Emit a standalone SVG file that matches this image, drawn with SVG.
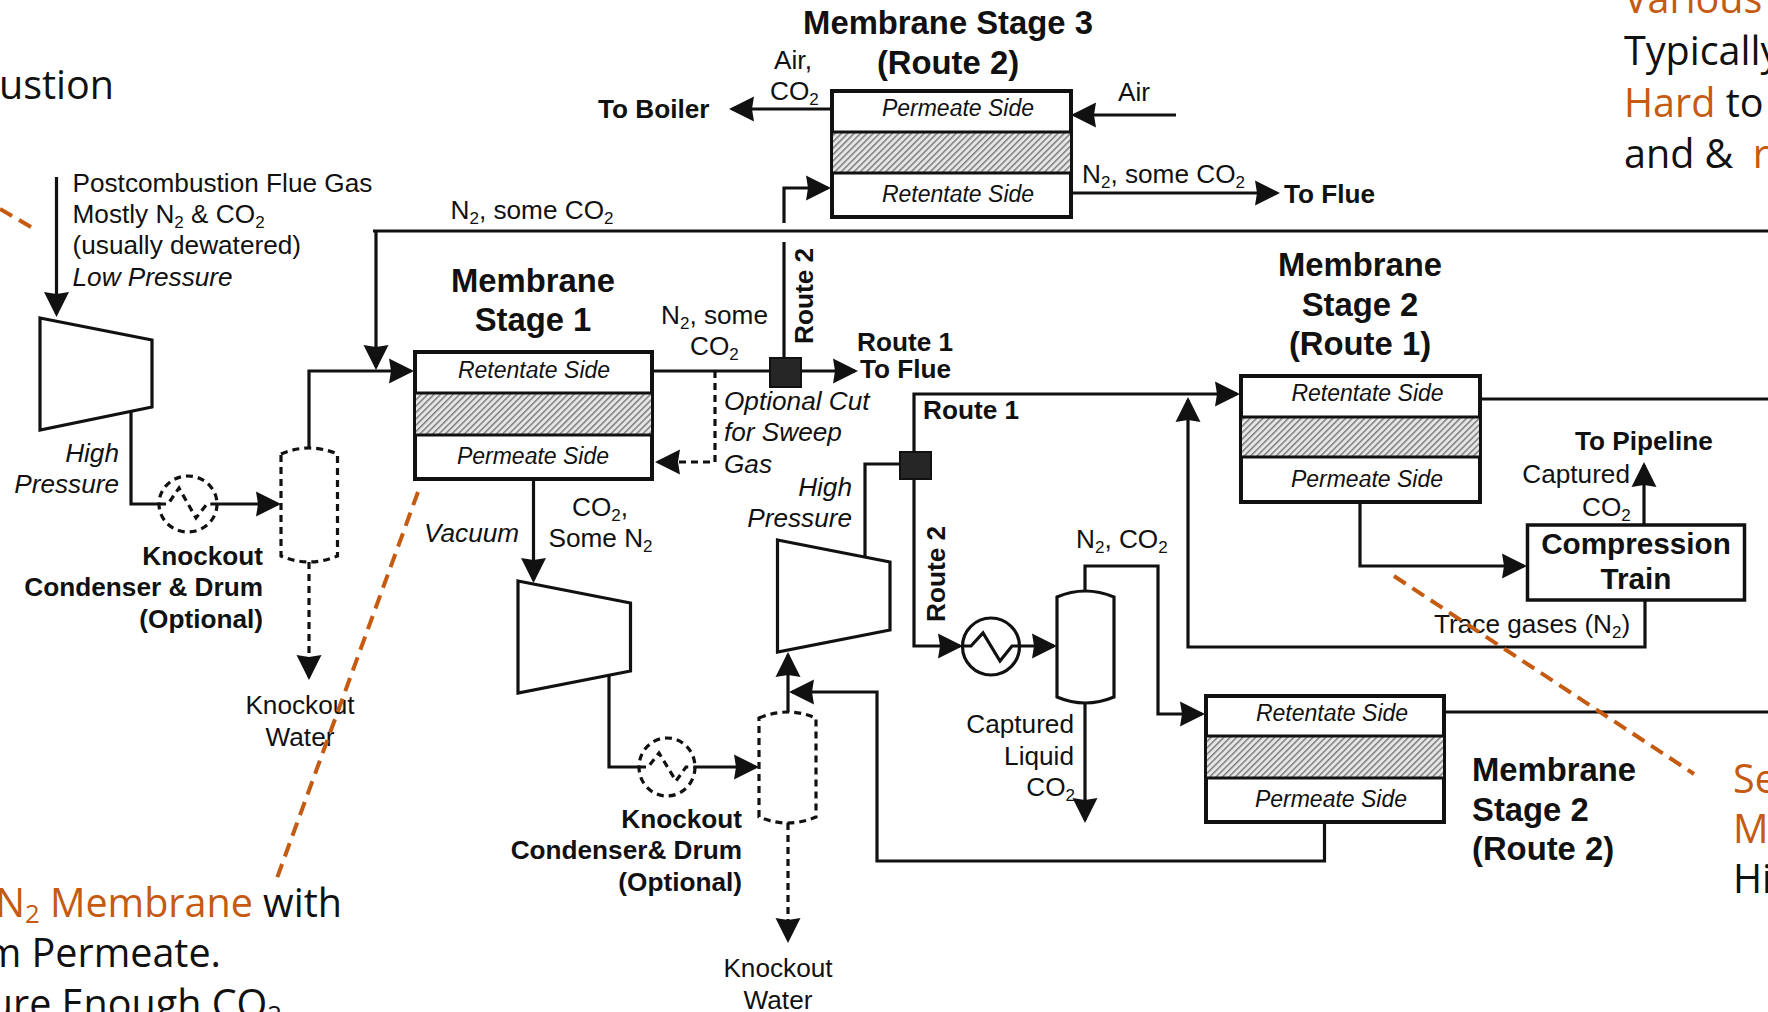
<svg xmlns="http://www.w3.org/2000/svg" width="1768" height="1012" viewBox="0 0 1768 1012">
<style>
text{font-family:"Liberation Sans",Arial,sans-serif;font-size:26.2px;fill:#111}
.b{font-weight:700}
.h{font-weight:700;font-size:32.8px}
.i{font-style:italic}
.s{font-style:italic;font-size:23px;text-anchor:middle}
.m{text-anchor:middle}
.e{text-anchor:end}
.big{font-family:"Open Sans","Noto Sans",sans-serif;font-size:39.5px;fill:#111}
.o{fill:#C55A11}
.sub{font-size:65%}
.l{fill:none;stroke:#111;stroke-width:3.2;stroke-linejoin:miter}
.d{stroke-dasharray:7 5}
.a{marker-end:url(#arrow)}
.box{fill:#fff;stroke:#111;stroke-width:4}
.div{stroke:#111;stroke-width:3;fill:none}
.sq{fill:#262626;stroke:#111;stroke-width:2}
.hatch{fill:url(#hatch);stroke:none}
.eq{fill:#fff;stroke:#111;stroke-width:3.2}
.orange{fill:none;stroke:#C55A11;stroke-width:4;stroke-dasharray:14 8}
</style>
<defs>
<marker id="arrow" markerUnits="userSpaceOnUse" markerWidth="26" markerHeight="26" refX="22" refY="13" orient="auto"><path d="M0,0.500L25,13L0,25.500L2,13Z" fill="#111"/></marker>
<pattern id="hatch" patternUnits="userSpaceOnUse" width="4.5" height="4.5" patternTransform="rotate(45)"><rect width="4.5" height="4.5" fill="#e6e6e6"/><rect width="1.5" height="4.5" fill="#7d7d7d"/></pattern>
</defs>
<rect width="1768" height="1012" fill="#fff"/>

<g id="connectors">
<path class="l a" d="M56.5,177V314"/>
<path class="l" d="M373,231H1768"/>
<path class="l a" d="M376,231V367"/>
<path class="l" d="M131,410V504H160"/>
<path class="l a" d="M216,504H278"/>
<path class="l a" d="M309,448V371H411"/>
<path class="l d a" d="M309,562V677"/>
<path class="l a" d="M652,371H855"/>
<path class="l" d="M784,357V242"/>
<path class="l a" d="M784,223V188H828"/>
<path class="l a" d="M831,109H732"/>
<path class="l a" d="M1176,115H1074"/>
<path class="l a" d="M1071,193H1277"/>
<path class="l d a" d="M715,371V462H658"/>
<path class="l" d="M899,464H865V557"/>
<path class="l a" d="M914,451V394H1237"/>
<path class="l" d="M1480,399H1768"/>
<path class="l a" d="M1645,600V647H1188V400"/>
<path class="l a" d="M1644,525V465"/>
<path class="l a" d="M1360,502V566H1524"/>
<path class="l a" d="M1085,591V566H1158V714H1202"/>
<path class="l" d="M1444,712H1768"/>
<path class="l a" d="M1324.5,822V861H877V692H792"/>
<path class="l a" d="M1085,703V820"/>
<path class="l a" d="M914,479V646H960"/>
<path class="l a" d="M1019,646H1054"/>
<path class="l a" d="M533.5,479V580"/>
<path class="l" d="M609,675V767H640"/>
<path class="l a" d="M695,767H756"/>
<path class="l a" d="M788,712V655"/>
<path class="l d a" d="M788,823V940"/>
</g>

<g id="compressor-1"><path class="eq" d="M40,318L152,340V407L40,430Z"/></g>
<g id="compressor-2"><path class="eq" d="M518,581L630.5,603V671L518,693Z"/></g>
<g id="compressor-3"><path class="eq" d="M777.5,540L890,562V630L777.5,652Z"/></g>

<g id="condenser-1"><ellipse class="eq d" cx="188" cy="504" rx="29" ry="28"/><path class="l d" d="M159,504H168L179,488L196,518L207,504H217"/></g>
<g id="condenser-2"><ellipse class="eq d" cx="667" cy="767" rx="28" ry="29"/><path class="l d" d="M639,767H648L659,753L676,781L686,767H695"/></g>
<g id="condenser-3"><ellipse class="eq" cx="991" cy="646.5" rx="28.5" ry="28.5"/><path class="l" d="M962,646H971L983,633L1000,661L1012,646H1020"/></g>

<g id="drum-1"><path class="eq d" d="M281,454Q309,442 337.5,454V556Q309,568 281,556Z"/></g>
<g id="drum-2"><path class="eq d" d="M759,718Q788,706 816,718V817Q788,829 759,817Z"/></g>
<g id="drum-3"><path class="eq" d="M1057,597Q1085,585 1114,597V697Q1085,709 1057,697Z"/></g>

<g id="membrane-1">
<rect class="box" x="415" y="352" width="237" height="127"/>
<rect class="hatch" x="416" y="393" width="235" height="42"/>
<path class="div" d="M415,393H652M415,435H652"/>
<text class="s" x="534" y="378">Retentate Side</text>
<text class="s" x="533" y="464">Permeate Side</text>
</g>
<g id="membrane-3">
<rect class="box" x="832" y="91" width="239" height="126"/>
<rect class="hatch" x="833" y="132" width="237" height="41"/>
<path class="div" d="M832,132H1071M832,173H1071"/>
<text class="s" x="958" y="116">Permeate Side</text>
<text class="s" x="958" y="202">Retentate Side</text>
</g>
<g id="membrane-2-route-1">
<rect class="box" x="1241" y="376" width="239" height="126"/>
<rect class="hatch" x="1242" y="417" width="237" height="40"/>
<path class="div" d="M1241,417H1480M1241,457H1480"/>
<text class="s" x="1367.500" y="401">Retentate Side</text>
<text class="s" x="1367" y="487">Permeate Side</text>
</g>
<g id="membrane-2-route-2">
<rect class="box" x="1206" y="696" width="238" height="126"/>
<rect class="hatch" x="1207" y="736" width="236" height="42"/>
<path class="div" d="M1206,736H1444M1206,778H1444"/>
<text class="s" x="1332" y="721">Retentate Side</text>
<text class="s" x="1331" y="807">Permeate Side</text>
</g>
<g id="valve-1"><rect class="sq" x="770" y="358" width="31" height="29"/></g>
<g id="valve-2"><rect class="sq" x="900" y="452" width="31" height="27"/></g>
<g id="compression-train">
<rect x="1527.500" y="525" width="217" height="75" fill="#fff" stroke="#111" stroke-width="3.500"/>
<text class="b m" style="font-size:29.700px" x="1636" y="554">Compression</text>
<text class="b m" style="font-size:29.700px" x="1636" y="589">Train</text>
</g>

<g id="labels">
<text x="72.500" y="192">Postcombustion Flue Gas</text>
<text x="72.500" y="223">Mostly N<tspan class="sub" dy="5">2</tspan><tspan dy="-5"> &amp; CO</tspan><tspan class="sub" dy="5">2</tspan></text>
<text x="72.500" y="254">(usually dewatered)</text>
<text class="i" x="72.500" y="286">Low Pressure</text>
<text x="450.500" y="219">N<tspan class="sub" dy="5">2</tspan><tspan dy="-5">, some CO</tspan><tspan class="sub" dy="5">2</tspan></text>
<text class="h m" x="533" y="292">Membrane</text>
<text class="h m" x="533" y="331">Stage 1</text>
<text class="i e" x="119" y="462">High</text>
<text class="i e" x="119" y="493">Pressure</text>
<text class="b e" x="263" y="565">Knockout</text>
<text class="b e" x="263" y="596">Condenser &amp; Drum</text>
<text class="b e" x="263" y="628">(Optional)</text>
<text class="m" x="300" y="714">Knockout</text>
<text class="m" x="300" y="746">Water</text>
<text class="i" x="424" y="542">Vacuum</text>
<text x="572" y="516">CO<tspan class="sub" dy="5">2</tspan><tspan dy="-5">,</tspan></text>
<text x="548.500" y="547">Some N<tspan class="sub" dy="5">2</tspan></text>
<text class="h m" x="948" y="34">Membrane Stage 3</text>
<text class="h m" x="948" y="74">(Route 2)</text>
<text class="m" x="793" y="69">Air,</text>
<text x="770" y="100">CO<tspan class="sub" dy="5">2</tspan></text>
<text class="b" x="598" y="118">To Boiler</text>
<text x="1118" y="101">Air</text>
<text x="1082" y="183">N<tspan class="sub" dy="5">2</tspan><tspan dy="-5">, some CO</tspan><tspan class="sub" dy="5">2</tspan></text>
<text class="b" x="1284" y="203">To Flue</text>
<text class="b" transform="translate(813,344) rotate(-90)">Route 2</text>
<text x="661" y="324">N<tspan class="sub" dy="5">2</tspan><tspan dy="-5">, some</tspan></text>
<text x="690" y="355">CO<tspan class="sub" dy="5">2</tspan></text>
<text class="b" x="857" y="351">Route 1</text>
<text class="b" x="860" y="378">To Flue</text>
<text class="i" x="724" y="410">Optional Cut</text>
<text class="i" x="724" y="441">for Sweep</text>
<text class="i" x="724" y="473">Gas</text>
<text class="b" x="923" y="419">Route 1</text>
<text class="i e" x="852" y="496">High</text>
<text class="i e" x="852" y="527">Pressure</text>
<text class="b" transform="translate(945,622) rotate(-90)">Route 2</text>
<text class="b e" x="742" y="828">Knockout</text>
<text class="b e" x="742" y="859">Condenser&amp; Drum</text>
<text class="b e" x="742" y="891">(Optional)</text>
<text class="m" x="778" y="977">Knockout</text>
<text class="m" x="778" y="1009">Water</text>
<text x="1076" y="548">N<tspan class="sub" dy="5">2</tspan><tspan dy="-5">, CO</tspan><tspan class="sub" dy="5">2</tspan></text>
<text class="e" x="1074" y="733">Captured</text>
<text class="e" x="1074" y="765">Liquid</text>
<text class="e" x="1075" y="796">CO<tspan class="sub" dy="5">2</tspan></text>
<text class="h m" x="1360" y="276">Membrane</text>
<text class="h m" x="1360" y="316">Stage 2</text>
<text class="h m" x="1360" y="355">(Route 1)</text>
<text class="b" x="1575" y="450">To Pipeline</text>
<text class="e" x="1630" y="483">Captured</text>
<text x="1582" y="516">CO<tspan class="sub" dy="5">2</tspan></text>
<text x="1434" y="633">Trace gases (N<tspan class="sub" dy="5">2</tspan><tspan dy="-5">)</tspan></text>
<text class="h" x="1472" y="781">Membrane</text>
<text class="h" x="1472" y="821">Stage 2</text>
<text class="h" x="1472" y="860">(Route 2)</text>
</g>

<g id="annotations">
<path class="orange" d="M418,492L277,878"/>
<path class="orange" d="M0,209L31,227"/>
<path class="orange" d="M1394,576L1694,774"/>
<text class="big" text-anchor="end" x="114" y="99">ustion</text>
<text class="big" x="1624" y="13" style="fill:#C55A11">Various</text>
<text class="big" x="1624" y="65">Typically</text>
<text class="big" x="1624" y="117"><tspan class="o">Hard</tspan> to</text>
<text class="big" x="1624" y="168">and &amp; <tspan class="o" dx="9">r</tspan></text>
<text class="big" text-anchor="end" x="342" y="917"><tspan class="o">N<tspan class="sub" dy="6">2</tspan><tspan dy="-6"> Membrane</tspan></tspan> with</text>
<text class="big" text-anchor="end" x="221" y="967">m Permeate.</text>
<text class="big" text-anchor="end" x="282" y="1018">ure Enough CO<tspan class="sub" dy="6">2</tspan></text>
<text class="big" x="1733" y="793" style="fill:#C55A11">Se</text>
<text class="big" x="1733" y="843" style="fill:#C55A11">M</text>
<text class="big" x="1733" y="893">Hi</text>
</g>
</svg>
